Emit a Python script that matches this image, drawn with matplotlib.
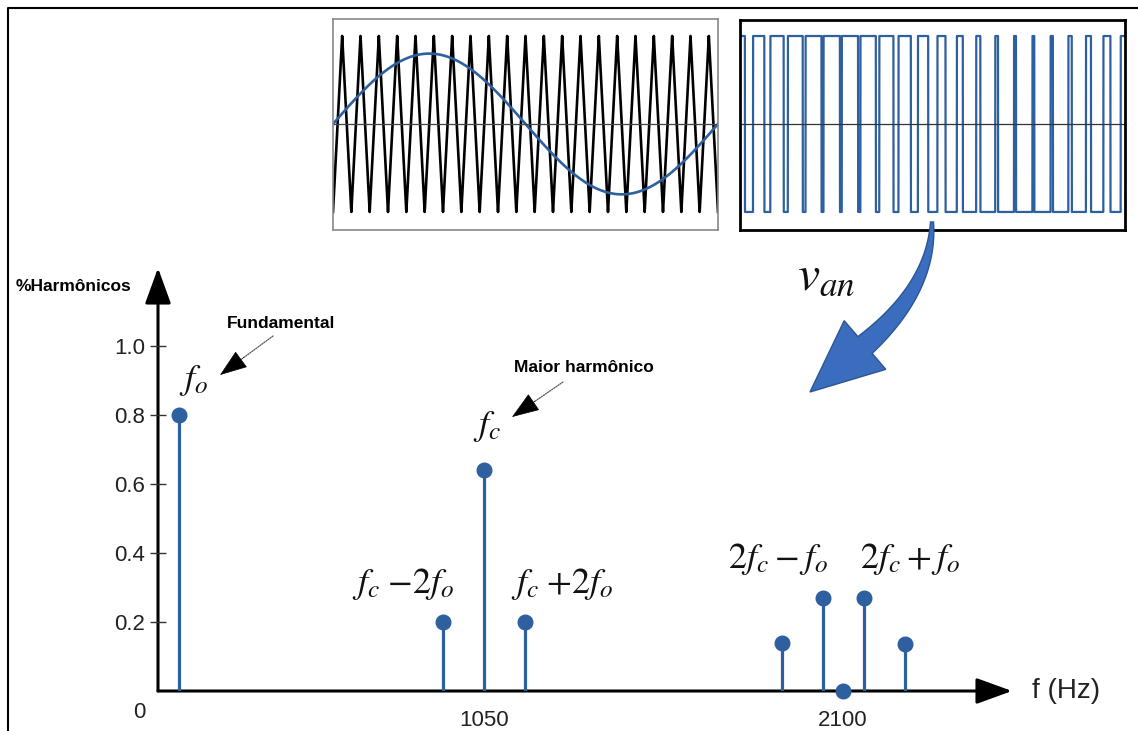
import numpy as np
import matplotlib
matplotlib.use('Agg')
import matplotlib.pyplot as plt
from matplotlib.patches import Polygon
from matplotlib.lines import Line2D

plt.rcParams['font.family'] = ['Liberation Sans', 'DejaVu Sans']
plt.rcParams['mathtext.fontset'] = 'stix'

# espectro (Hz, fracao da fundamental)
freqs = [158, 930, 1050, 1170, 1920, 2040, 2100, 2160, 2280]
harm = [0.80, 0.20, 0.64, 0.20, 0.14, 0.27, 0.0, 0.27, 0.135]
yticks = [0.2, 0.4, 0.6, 0.8, 1.0]
xticks = [1050, 2100]
xlabels = ['1050', '2100']

# rotulos das raias
rotulos = [r'$f_o$', r'$f_c$', r'$f_c\;{-}2f_o$', r'$f_c\;{+}2f_o$',
           r'$2f_c - f_o$', r'$2f_c + f_o$']
rot_x = [199, 1059, 813, 1278, 1910, 2296]
rot_y = [0.90, 0.768, 0.31, 0.31, 0.383, 0.383]

# quadros de cima: modulante e portadora triangular
ma = 0.8   # indice de modulacao
mf = 21    # periodos da portadora por periodo da modulante

W, H = 1138, 731
azul = '#2e5f9f'


def F(x, y):
    # pixel da figura de referencia -> fracao da figura
    return (x / W, 1 - y / H)


def caixa(x0, y0, x1, y1):
    return [x0 / W, 1 - y1 / H, (x1 - x0) / W, (y1 - y0) / H]


fig = plt.figure(figsize=(W / 100, H / 100), dpi=100)

# moldura (so topo e esquerda)
fig.add_artist(Line2D([F(8, 731)[0], F(8, 8)[0], F(1138, 8)[0]],
                      [F(8, 731)[1], F(8, 8)[1], F(1138, 8)[1]],
                      transform=fig.transFigure, color='k', lw=1.5))

# ---------------- espectro ----------------
ax = fig.add_axes(caixa(158, 268, 1012, 691))
ax.set_xlim(96, 2594)
ax.set_ylim(0, 1.226)
for s in ax.spines.values():
    s.set_visible(False)

seta = dict(arrowstyle='-|>,head_length=1.1,head_width=0.4', lw=2.2, color='k',
            mutation_scale=20, shrinkA=0, shrinkB=0)
ax.annotate('', xy=(1, 0), xytext=(0, 0), xycoords='axes fraction', arrowprops=seta, zorder=1)
ax.annotate('', xy=(0, 1), xytext=(0, 0), xycoords='axes fraction', arrowprops=seta, zorder=1)

ml, sl, bl = ax.stem(freqs, harm)
sl.set_color(azul)
sl.set_linewidth(2.3)
sl.set_zorder(4)
ml.set_color(azul)
ml.set_markersize(10.5)
ml.set_clip_on(False)
ml.set_zorder(5)
bl.set_visible(False)

ax.set_yticks(yticks, [f'{v:.1f}' for v in yticks])
ax.tick_params(axis='y', direction='inout', length=11, width=1, color='#333',
               labelsize=16, labelcolor='#222', pad=4)
ax.set_xticks(xticks, xlabels)
ax.tick_params(axis='x', length=0, labelsize=16, labelcolor='#222', pad=14)

for txt, x, y in zip(rotulos, rot_x, rot_y):
    ax.text(x, y, txt, fontsize=26, ha='center', va='center', color='#111')

fig.text(*F(139, 712), '0', fontsize=16, color='#222', ha='center', va='center')
fig.text(*F(74, 287), '%Harmônicos', fontsize=12.5, fontweight='bold', ha='center', va='center')
fig.text(*F(1066, 691), 'f (Hz)', fontsize=20, color='#222', ha='center', va='center')

fig.text(*F(281, 323), 'Fundamental', fontsize=12.5, fontweight='bold', ha='center', va='center')
fig.text(*F(584, 368), 'Maior harmônico', fontsize=12.5, fontweight='bold', ha='center', va='center')

pont = dict(arrowstyle='-', lw=0.9, color='#555', ls=(0, (1, 1)), shrinkA=0, shrinkB=0)
cab = dict(arrowstyle='-|>,head_length=1.8,head_width=0.65', lw=0.5, color='k',
           mutation_scale=10, shrinkA=0, shrinkB=0)
for (xt, yt), (xp, yp) in [((273, 336), (220, 375)), ((563, 382), (512, 417))]:
    xb, yb = xp + 0.45 * (xt - xp), yp + 0.45 * (yt - yp)
    ax.annotate('', xy=F(xb, yb), xytext=F(xt, yt), xycoords='figure fraction', arrowprops=pont)
    ax.annotate('', xy=F(xp, yp), xytext=F(xb, yb), xycoords='figure fraction', arrowprops=cab)

# ---------------- quadros ----------------
t = np.linspace(0, 1, 42 * 200 + 1)
seno = ma * np.sin(2 * np.pi * t)
tri = 1 - 4 * np.abs((mf * t) % 1 - 0.5)
pwm = np.where(seno > tri, 1.0, -1.0)

ax1 = fig.add_axes(caixa(333, 19, 718, 230))
ax1.plot(t, tri, color='k', lw=1.9)
ax1.plot(t, seno, color=azul, lw=1.9)
ax1.axhline(0, color='#444', lw=0.9)
ax1.set_xlim(0, 1)
ax1.set_ylim(-1.205, 1.193)
ax1.set_xticks([])
ax1.set_yticks([])
for s in ax1.spines.values():
    s.set_color('#888')
    s.set_linewidth(1.2)

ax2 = fig.add_axes(caixa(740, 20, 1125, 230))
ax2.plot(t, pwm, color=azul, lw=1.6)
ax2.axhline(0, color='#333', lw=0.9)
ax2.set_xlim(0, 1)
ax2.set_ylim(-1.205, 1.182)
ax2.set_xticks([])
ax2.set_yticks([])
for s in ax2.spines.values():
    s.set_color('k')
    s.set_linewidth(2)

# v_an e seta curva (haste que engrossa + ponta), em pixels da referencia
fig.text(*F(826, 276), r'$v_{an}$', fontsize=36, ha='center', va='center', color='#111')

p0 = np.array([932.0, 222.0])
p1 = np.array([932.0, 288.0])
p2 = np.array([865.0, 345.0])
ponta = np.array([810.0, 392.0])
s = np.linspace(0, 1, 60)[:, None]
eixo = (1 - s) ** 2 * p0 + 2 * (1 - s) * s * p1 + s ** 2 * p2
deriv = 2 * (1 - s) * (p1 - p0) + 2 * s * (p2 - p1)
nrm = np.column_stack([-deriv[:, 1], deriv[:, 0]])
nrm /= np.linalg.norm(nrm, axis=1)[:, None]
larg = (1.5 + 9.5 * s)
lado_a = eixo + nrm * larg
lado_b = eixo - nrm * larg
d = (ponta - p2) / np.linalg.norm(ponta - p2)
n2 = np.array([-d[1], d[0]])
canto_a = p2 + n2 * 32
canto_b = p2 - n2 * 32
if np.dot(canto_a - p2, nrm[-1]) < 0:
    canto_a, canto_b = canto_b, canto_a
contorno = np.vstack([lado_a, canto_a, ponta, canto_b, lado_b[::-1]])
contorno = np.column_stack([contorno[:, 0] / W, 1 - contorno[:, 1] / H])
fig.patches.append(Polygon(contorno, closed=True, transform=fig.transFigure,
                           fc='#3b6dbf', ec='#2b5593', lw=1))

fig.savefig('out.png', dpi=100)
